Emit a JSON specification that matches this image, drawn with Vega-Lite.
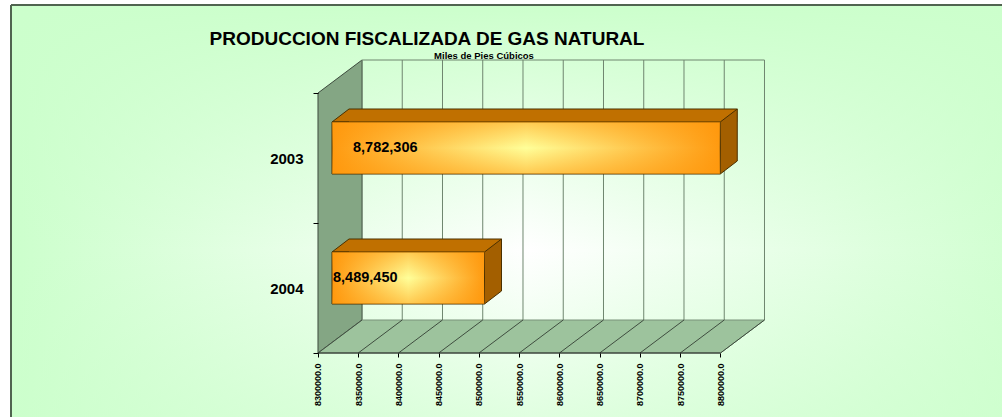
{
  "$schema": "https://vega.github.io/schema/vega-lite/v6.json",
  "width": 991,
  "height": 412,
  "autosize": {"type": "none"},
  "padding": {"left": 11, "top": 5, "right": 0, "bottom": 0},
  "background": "white",
  "config": {"view": {"stroke": null}, "font": "Liberation Sans"},
  "title": {
    "text": "PRODUCCION FISCALIZADA DE GAS NATURAL",
    "font": "Liberation Sans", "fontSize": 19, "fontWeight": "bold", "color": "black",
    "anchor": "middle", "frame": "group", "dx": -79.5, "offset": -66, "baseline": "alphabetic"
  },
  "datasets": {
    "bars": [
      {"year": "2003", "value": 8782306},
      {"year": "2004", "value": 8489450}
    ],
    "ticks": [
      {"tick": 8300000}, {"tick": 8350000}, {"tick": 8400000}, {"tick": 8450000},
      {"tick": 8500000}, {"tick": 8550000}, {"tick": 8600000}, {"tick": 8650000},
      {"tick": 8700000}, {"tick": 8750000}, {"tick": 8800000}
    ],
    "one": [{"note": "Miles de Pies Cúbicos"}]
  },
  "layer": [
    {
      "data": {"name": "one"},
      "mark": {"type": "rect", "fill": {"gradient": "linear", "x1": 0, "x2": 1, "y1": 0, "y2": 0,
        "stops": [{"offset": 0, "color": "#ccffcc"}, {"offset": 0.524, "color": "#ffffff"}, {"offset": 1, "color": "#d2ffd2"}]}},
      "encoding": {}
    },
    {
      "data": {"name": "one"},
      "mark": {"type": "rect", "fill": {"gradient": "linear", "x1": 0, "x2": 0, "y1": 0, "y2": 1,
        "stops": [{"offset": 0, "color": "rgba(204,255,204,1)"}, {"offset": 0.595, "color": "rgba(204,255,204,0)"}, {"offset": 1, "color": "rgba(204,255,204,0.6)"}]}},
      "encoding": {}
    },
    {
      "data": {"name": "one"},
      "mark": {"type": "rule", "stroke": "#506450", "strokeWidth": 2},
      "encoding": {
        "x": {"datum": 7918634, "type": "quantitative"}
      }
    },
    {
      "data": {"name": "one"},
      "mark": {"type": "rule", "stroke": "#506450", "strokeWidth": 2, "yOffset": -153},
      "encoding": {
        "y": {"datum": "2003", "type": "nominal"}
      }
    },
    {
      "data": {"name": "one"},
      "mark": {"type": "point", "shape": "M0,-195L44,-228L44,32L0,65Z", "size": 4, "filled": true,
        "fill": "#84a684", "stroke": "#3c4a3c", "strokeWidth": 1, "opacity": 1},
      "encoding": {
        "x": {"datum": 8300000, "type": "quantitative",
          "scale": {"domain": [7918634, 9149690], "nice": false, "zero": false},
          "axis": {"values": [8300000, 8350000, 8400000, 8450000, 8500000, 8550000, 8600000, 8650000, 8700000, 8750000, 8800000],
            "format": ".1f", "labelAngle": -90, "labelFont": "Liberation Sans", "labelFontWeight": "bold", "labelFontSize": 9,
            "labelColor": "black", "tickSize": 4, "tickColor": "black", "domain": false, "grid": false, "offset": -64,
            "title": null, "labelPadding": 6, "labelOverlap": false, "labelFlush": false, "zindex": 1}},
        "y": {"datum": "2004", "type": "nominal",
          "scale": {"type": "band", "domain": ["2003", "2004"], "paddingInner": 0, "paddingOuter": 0.5846, "align": 0.579},
          "axis": {"orient": "left", "offset": -307, "domain": false, "ticks": true, "tickBand": "extent", "tickSize": 5,
            "tickColor": "black", "labelPadding": 10, "labelFont": "Liberation Sans", "labelFontSize": 15, "labelFontWeight": "bold",
            "labelColor": "black", "title": null, "grid": false, "zindex": 1}}
      }
    },
    {
      "data": {"name": "one"},
      "mark": {"type": "point", "shape": "M0,65L402.5,65L446.5,32L44,32Z", "size": 4, "filled": true,
        "fill": "#9dc39d", "stroke": "#7a927a", "strokeWidth": 1, "opacity": 1},
      "encoding": {
        "x": {"datum": 8300000, "type": "quantitative"},
        "y": {"datum": "2004", "type": "nominal"}
      }
    },
    {
      "data": {"name": "ticks"},
      "mark": {"type": "rule", "stroke": "#6f866f", "strokeWidth": 1, "xOffset": 44, "yOffset": -98, "y2Offset": 32},
      "encoding": {
        "x": {"field": "tick", "type": "quantitative", "title": null},
        "y": {"datum": "2003", "type": "nominal"},
        "y2": {"datum": "2004"}
      }
    },
    {
      "data": {"name": "one"},
      "mark": {"type": "rule", "stroke": "#6f866f", "strokeWidth": 1, "xOffset": 44, "x2Offset": 44, "yOffset": -98},
      "encoding": {
        "x": {"datum": 8300000, "type": "quantitative"},
        "x2": {"datum": 8800000},
        "y": {"datum": "2003", "type": "nominal"}
      }
    },
    {
      "data": {"name": "ticks"},
      "mark": {"type": "rule", "stroke": "#3f4d3f", "strokeWidth": 1, "x2Offset": 44, "yOffset": 65, "y2Offset": 32},
      "encoding": {
        "x": {"field": "tick", "type": "quantitative", "title": null},
        "x2": {"field": "tick"},
        "y": {"datum": "2004", "type": "nominal"},
        "y2": {"datum": "2004"}
      }
    },
    {
      "data": {"name": "one"},
      "mark": {"type": "rule", "stroke": "#1e1e1e", "strokeWidth": 1, "yOffset": 65},
      "encoding": {
        "x": {"datum": 8300000, "type": "quantitative"},
        "x2": {"datum": 8800000},
        "y": {"datum": "2004", "type": "nominal"}
      }
    },
    {
      "data": {"name": "bars"},
      "mark": {"type": "bar", "fill": "#c07000", "xOffset": 31, "x2Offset": 31, "yOffset": -42.5, "y2Offset": -42.5, "height": {"band": 0.1}},
      "encoding": {
        "x": {"field": "value", "type": "quantitative", "title": null},
        "x2": {"datum": 8300000},
        "y": {"field": "year", "type": "nominal", "title": null}
      }
    },
    {
      "data": {"name": "bars"},
      "mark": {"type": "point", "shape": "M17,-26L0,-26L17,-39", "size": 4, "filled": true, "fill": "#c07000",
        "stroke": "#4a3000", "strokeWidth": 1, "opacity": 1, "xOffset": 14, "yOffset": -10},
      "encoding": {
        "x": {"datum": 8300000, "type": "quantitative"},
        "y": {"field": "year", "type": "nominal", "title": null}
      }
    },
    {
      "data": {"name": "bars"},
      "mark": {"type": "rule", "stroke": "#4a3000", "strokeWidth": 1, "xOffset": 31, "x2Offset": 31, "yOffset": -49},
      "encoding": {
        "x": {"field": "value", "type": "quantitative", "title": null},
        "x2": {"datum": 8300000},
        "y": {"field": "year", "type": "nominal", "title": null}
      }
    },
    {
      "data": {"name": "bars"},
      "mark": {"type": "point", "shape": "M0,-26L17,-39L17,13L0,26Z", "size": 4, "filled": true, "fill": "#a35f00",
        "stroke": "#4a3000", "strokeWidth": 1, "opacity": 1, "xOffset": 14, "yOffset": -10},
      "encoding": {
        "x": {"field": "value", "type": "quantitative", "title": null},
        "y": {"field": "year", "type": "nominal", "title": null}
      }
    },
    {
      "data": {"name": "bars"},
      "mark": {"type": "bar", "xOffset": 14, "x2Offset": 14, "yOffset": -10, "y2Offset": -10, "height": {"band": 0.4},
        "fill": {"gradient": "linear", "x1": 0, "x2": 1, "y1": 0, "y2": 0,
          "stops": [{"offset": 0, "color": "#ff9a10"}, {"offset": 0.5, "color": "#ffff99"}, {"offset": 1, "color": "#ff9a10"}]},
        "stroke": "#4a3000", "strokeWidth": 1},
      "encoding": {
        "x": {"field": "value", "type": "quantitative", "title": null},
        "x2": {"datum": 8300000},
        "y": {"field": "year", "type": "nominal", "title": null}
      }
    },
    {
      "data": {"name": "bars"},
      "mark": {"type": "bar", "xOffset": 14, "x2Offset": 14, "yOffset": -10, "y2Offset": -10, "height": {"band": 0.4},
        "fill": {"gradient": "linear", "x1": 0, "x2": 0, "y1": 0, "y2": 1,
          "stops": [{"offset": 0, "color": "rgba(255,150,10,0.5)"}, {"offset": 0.5, "color": "rgba(255,150,10,0)"}, {"offset": 1, "color": "rgba(255,150,10,0.5)"}]}},
      "encoding": {
        "x": {"field": "value", "type": "quantitative", "title": null},
        "x2": {"datum": 8300000},
        "y": {"field": "year", "type": "nominal", "title": null}
      }
    },
    {
      "data": {"name": "bars"},
      "transform": [{"filter": "datum.year == '2003'"}],
      "mark": {"type": "text", "align": "left", "baseline": "middle", "dx": 35, "dy": -10.5,
        "font": "Liberation Sans", "fontSize": 14.5, "fontWeight": "bold", "color": "black"},
      "encoding": {
        "x": {"datum": 8300000, "type": "quantitative"},
        "y": {"field": "year", "type": "nominal", "title": null},
        "text": {"field": "value", "type": "quantitative", "format": ","}
      }
    },
    {
      "data": {"name": "bars"},
      "transform": [{"filter": "datum.year == '2004'"}],
      "mark": {"type": "text", "align": "left", "baseline": "middle", "dx": 15, "dy": -10,
        "font": "Liberation Sans", "fontSize": 14.5, "fontWeight": "bold", "color": "black"},
      "encoding": {
        "x": {"datum": 8300000, "type": "quantitative"},
        "y": {"field": "year", "type": "nominal", "title": null},
        "text": {"field": "value", "type": "quantitative", "format": ","}
      }
    },
    {
      "data": {"name": "one"},
      "mark": {"type": "text", "align": "center", "baseline": "alphabetic", "dx": 5, "dy": -99,
        "font": "Liberation Sans", "fontSize": 9.5, "fontWeight": "bold", "color": "black"},
      "encoding": {
        "x": {"datum": 8500000, "type": "quantitative"},
        "y": {"datum": "2003", "type": "nominal"},
        "text": {"field": "note", "type": "nominal"}
      }
    }
  ]
}
